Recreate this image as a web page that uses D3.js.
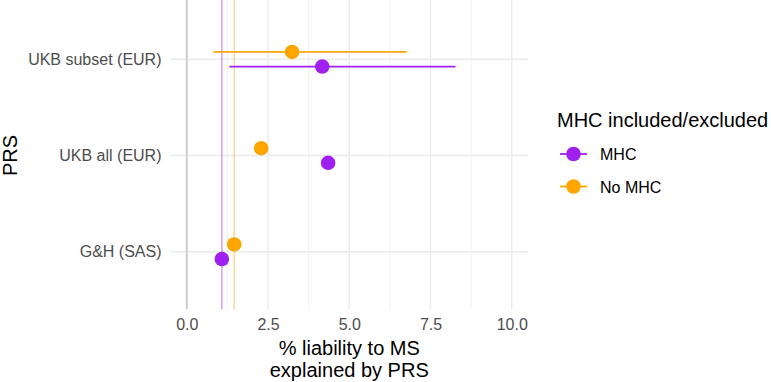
<!DOCTYPE html>
<html>
<head>
<meta charset="utf-8">
<script src="https://cdn.jsdelivr.net/npm/d3@7"></script>
<style>
  body { margin: 0; background: #fff; }
  text { font-family: "Liberation Sans", Arial, sans-serif; }
</style>
</head>
<body>
<script>
// data
var prsNames = ["UKB subset (EUR)", "UKB all (EUR)", "G&H (SAS)"];
var groups = ["MHC", "No MHC"];
var colours = ["#A020F0", "#FFA500"];
var mhcEst = [4.17, 4.35, 1.08];
var mhcLo = [1.31, null, null];
var mhcHi = [8.27, null, null];
var noMhcEst = [3.24, 2.29, 1.46];
var noMhcLo = [0.82, null, null];
var noMhcHi = [6.77, null, null];
var xTicks = [0, 2.5, 5, 7.5, 10];
var xMinor = [1.25, 3.75, 6.25, 8.75];

var width = 771, height = 382;
var panel = { left: 170.5, right: 528, top: 1.5, bottom: 309.5 };

var svg = d3.select("body").append("svg")
    .attr("width", width)
    .attr("height", height);

var xScale = d3.scaleLinear()
    .domain([-0.5, 10.5])
    .range([panel.left, panel.right]);

var yScale = d3.scalePoint()
    .domain(prsNames)
    .range([panel.top, panel.bottom])
    .padding(0.6);

var dodge = 7.3; // half the dodge in px

// rows for each group
var rows = [];
prsNames.forEach(function(n, i) {
    rows.push({ prs: n, g: 0, est: mhcEst[i], lo: mhcLo[i], hi: mhcHi[i] });
    rows.push({ prs: n, g: 1, est: noMhcEst[i], lo: noMhcLo[i], hi: noMhcHi[i] });
});
function yPos(d) { return yScale(d.prs) + (d.g === 0 ? dodge : -dodge); }

// grid
var grid = svg.append("g");
grid.selectAll(".minor").data(xMinor).enter().append("line")
    .attr("x1", function(d) { return xScale(d); })
    .attr("x2", function(d) { return xScale(d); })
    .attr("y1", panel.top - 1.5).attr("y2", panel.bottom)
    .attr("stroke", "#ebebeb").attr("stroke-width", 0.7);
grid.selectAll(".major").data(xTicks).enter().append("line")
    .attr("x1", function(d) { return xScale(d); })
    .attr("x2", function(d) { return xScale(d); })
    .attr("y1", panel.top - 1.5).attr("y2", panel.bottom)
    .attr("stroke", "#ebebeb").attr("stroke-width", 1.4);
grid.selectAll(".ymajor").data(prsNames).enter().append("line")
    .attr("x1", panel.left).attr("x2", panel.right)
    .attr("y1", function(d) { return yScale(d); })
    .attr("y2", function(d) { return yScale(d); })
    .attr("stroke", "#ebebeb").attr("stroke-width", 1.4);

// zero line
svg.append("line")
    .attr("x1", xScale(0)).attr("x2", xScale(0))
    .attr("y1", panel.top - 1.5).attr("y2", panel.bottom)
    .attr("stroke", "#cccccc").attr("stroke-width", 1.8);

// reference lines at G&H values
var gh = rows.filter(function(d) { return d.prs === "G&H (SAS)"; });
svg.selectAll(".ref").data(gh).enter().append("line")
    .attr("x1", function(d) { return xScale(d.est); })
    .attr("x2", function(d) { return xScale(d.est); })
    .attr("y1", panel.top - 1.5).attr("y2", panel.bottom)
    .attr("stroke", function(d) { return colours[d.g]; })
    .attr("stroke-opacity", 0.4).attr("stroke-width", 1.6);

// error bars
svg.selectAll(".err").data(rows.filter(function(d) { return d.lo !== null; }))
    .enter().append("line")
    .attr("x1", function(d) { return xScale(d.lo); })
    .attr("x2", function(d) { return xScale(d.hi); })
    .attr("y1", yPos).attr("y2", yPos)
    .attr("stroke", function(d) { return colours[d.g]; })
    .attr("stroke-width", 1.8);

// points
svg.selectAll(".pt").data(rows).enter().append("circle")
    .attr("cx", function(d) { return xScale(d.est); })
    .attr("cy", yPos)
    .attr("r", 7.3)
    .attr("fill", function(d) { return colours[d.g]; });

// axes
var xAxis = d3.axisBottom(xScale).tickValues(xTicks).tickSize(0).tickPadding(8)
    .tickFormat(d3.format(".1f"));
var xg = svg.append("g").attr("transform", "translate(0," + (panel.bottom + 1) + ")").call(xAxis);
xg.select(".domain").remove();
xg.selectAll("text").attr("font-size", "16px").attr("fill", "#4d4d4d")
    .style("font-family", "'Liberation Sans', Arial, sans-serif");

var yAxis = d3.axisLeft(yScale).tickSize(0).tickPadding(9);
var yg = svg.append("g").attr("transform", "translate(" + panel.left + ",0)").call(yAxis);
yg.select(".domain").remove();
yg.selectAll("text").attr("font-size", "16px").attr("fill", "#4d4d4d")
    .style("font-family", "'Liberation Sans', Arial, sans-serif");

// titles
var xMid = (panel.left + panel.right) / 2;
svg.append("text").attr("x", xMid).attr("y", 355).attr("text-anchor", "middle")
    .attr("font-size", "20px").text("% liability to MS");
svg.append("text").attr("x", xMid).attr("y", 377).attr("text-anchor", "middle")
    .attr("font-size", "20px").text("explained by PRS");
svg.append("text").attr("transform", "translate(17," + ((panel.top + panel.bottom) / 2) + ") rotate(-90)")
    .attr("text-anchor", "middle").attr("font-size", "20px").text("PRS");

// legend
var legend = svg.append("g").attr("transform", "translate(557,0)");
legend.append("text").attr("x", 0).attr("y", 127).attr("font-size", "20px")
    .text("MHC included/excluded");
var keys = legend.selectAll(".key").data(groups).enter().append("g")
    .attr("transform", function(d, i) { return "translate(0," + (154 + i * 32.5) + ")"; });
keys.append("line").attr("x1", 3).attr("x2", 30).attr("y1", 0).attr("y2", 0)
    .attr("stroke", function(d, i) { return colours[i]; }).attr("stroke-width", 1.8);
keys.append("circle").attr("cx", 16.5).attr("cy", 0).attr("r", 7.3)
    .attr("fill", function(d, i) { return colours[i]; });
keys.append("text").attr("x", 43).attr("y", 6).attr("font-size", "16px").text(function(d) { return d; });
</script>
</body>
</html>
